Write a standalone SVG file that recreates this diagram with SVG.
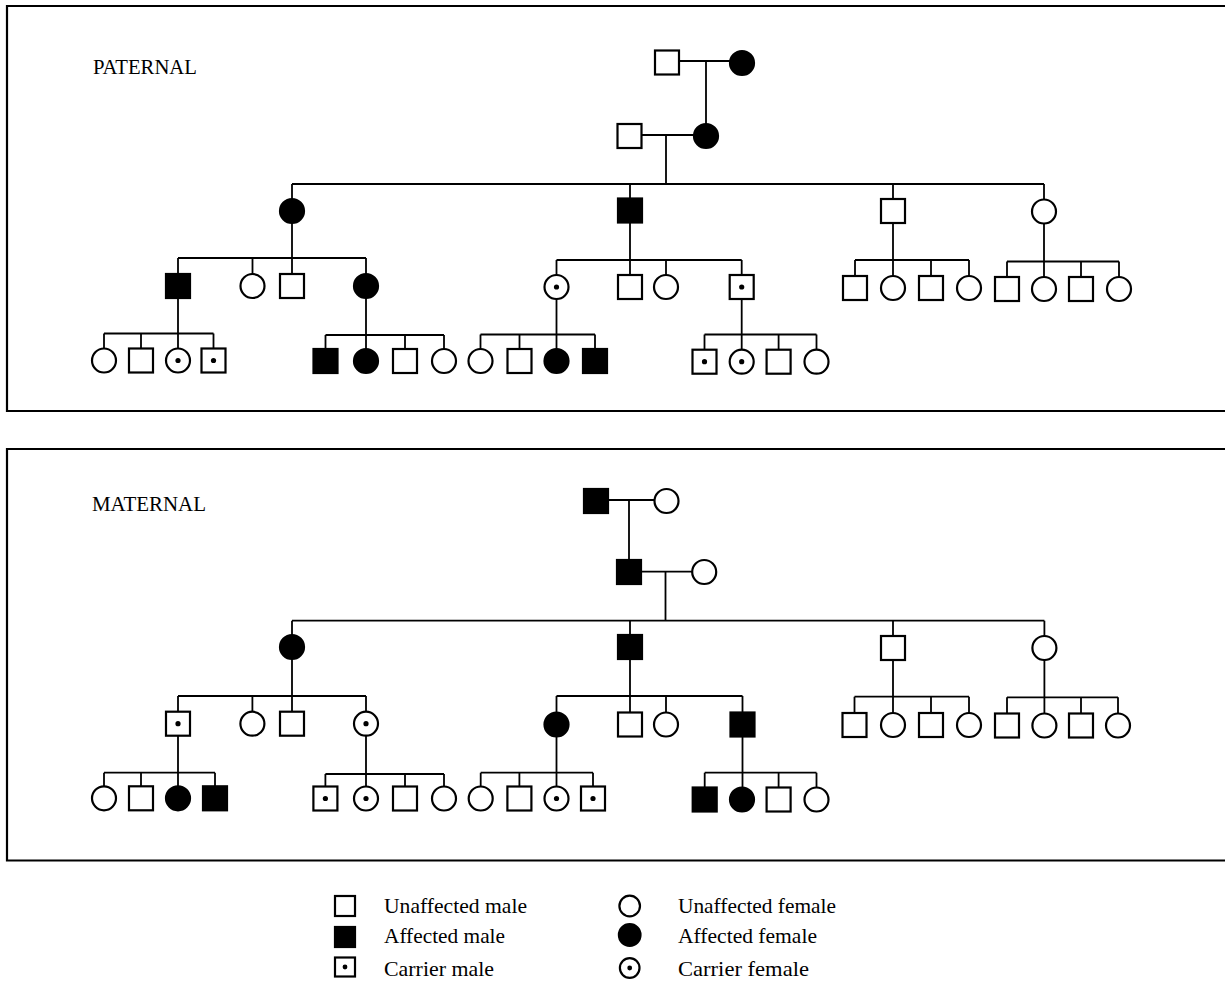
<svg xmlns="http://www.w3.org/2000/svg" width="1225" height="985" viewBox="0 0 1225 985">
<style>
.o{fill:#fff;stroke:#000;stroke-width:2.2}
.s{fill:#000;stroke:#000;stroke-width:2.2}
.d{fill:#000}
.ln{stroke:#000;stroke-width:1.8;fill:none}
.fr{stroke:#000;stroke-width:2.2;fill:none}
.t{font-family:"Liberation Serif","Times New Roman",serif;font-size:21px;fill:#000}
</style>
<defs>
<g id="um"><rect x="-12" y="-12" width="24" height="24" class="o"/></g>
<g id="am"><rect x="-12" y="-12" width="24" height="24" class="s"/></g>
<g id="cm"><rect x="-12" y="-12" width="24" height="24" class="o"/><circle r="2.6" class="d"/></g>
<g id="uf"><circle r="12" class="o"/></g>
<g id="af"><circle r="12" class="s"/></g>
<g id="cf"><circle r="12" class="o"/><circle r="2.6" class="d"/></g>
</defs>
<rect width="1225" height="985" fill="#fff"/>
<g id="frames">
<path class="fr" d="M1227 6 H7 V411 H1227"/>
<path class="fr" d="M1227 449 H7 V860.5 H1227"/>
</g>
<g id="titles">
<text class="t" x="93" y="73.5" textLength="104" lengthAdjust="spacingAndGlyphs">PATERNAL</text>
<text class="t" x="92" y="511" textLength="114" lengthAdjust="spacingAndGlyphs">MATERNAL</text>
</g>
<g id="connectors">
<path class="ln" d="M679 61H730M706 61V124M641.5 135H694M666 135V184M292 184H1044M292 184V199M630 184V198.5M893 184V199M1044 184V199.5"/>
<path class="ln" d="M292 223V274M178 258H366M178 258V274M252.5 258V274M366 258V274"/>
<path class="ln" d="M630 222.5V275M556.5 260H741.7M556.5 260V275M666 260V275M741.7 260V275"/>
<path class="ln" d="M893 223V276M855 260H969M855 260V276M931 260V276M969 260V276"/>
<path class="ln" d="M1044 223.5V277M1007 261.5H1119M1007 261.5V277M1081 261.5V277M1119 261.5V277"/>
<path class="ln" d="M178 298V348.5M104 333.5H213.5M104 333.5V348.5M141 333.5V348.5M213.5 333.5V348.5"/>
<path class="ln" d="M366 298V349M325.5 335H444M325.5 335V349M405 335V349M444 335V349"/>
<path class="ln" d="M556.5 299V349M480.5 334.5H595M480.5 334.5V349M519.5 334.5V349M595 334.5V349"/>
<path class="ln" d="M741.7 299V349.7M704.5 334.5H816.5M704.5 334.5V349.7M778.6 334.5V349.7M816.5 334.5V349.7"/>
<path class="ln" d="M608 500H654.5M629 500V560M641 571.7H692.2M665.5 571.7V620.7M292 620.7H1044.4M292 620.7V635M630 620.7V635M893 620.7V636M1044.4 620.7V636"/>
<path class="ln" d="M292 659V711.7M178 696H366M178 696V711.7M252.4 696V711.7M366 696V711.7"/>
<path class="ln" d="M630 659V712.5M556.5 696H742.5M556.5 696V712.5M666 696V712.5M742.5 696V712.5"/>
<path class="ln" d="M893 660V713M854.5 696.7H969M854.5 696.7V713M931 696.7V713M969 696.7V713"/>
<path class="ln" d="M1044.4 660V713.5M1007 697.3H1118M1007 697.3V713.5M1081 697.3V713.5M1118 697.3V713.5"/>
<path class="ln" d="M178 735.7V786.3M104 772.7H215M104 772.7V786.3M141 772.7V786.3M215 772.7V786.3"/>
<path class="ln" d="M366 735.7V786.5M325.4 774H444M325.4 774V786.5M405 774V786.5M444 774V786.5"/>
<path class="ln" d="M556.5 736.5V786.5M480.7 772.7H593M480.7 772.7V786.5M519.4 772.7V786.5M593 772.7V786.5"/>
<path class="ln" d="M742.5 736.5V787.5M704.7 772.7H816.5M704.7 772.7V787.5M778.6 772.7V787.5M816.5 772.7V787.5"/>
</g>
<g id="paternal">
<g id="pat-I-1"><use href="#um" x="667" y="62.5"/></g>
<g id="pat-I-2"><use href="#af" x="742" y="63"/></g>
<g id="pat-II-1"><use href="#um" x="629.5" y="136"/></g>
<g id="pat-II-2"><use href="#af" x="706" y="136"/></g>
<g id="pat-III-1"><use href="#af" x="292" y="211"/></g>
<g id="pat-III-2"><use href="#am" x="630" y="210.5"/></g>
<g id="pat-III-3"><use href="#um" x="893" y="211"/></g>
<g id="pat-III-4"><use href="#uf" x="1044" y="211.5"/></g>
<g id="pat-IV-1"><use href="#am" x="178" y="286"/></g>
<g id="pat-IV-2"><use href="#uf" x="252.5" y="286"/></g>
<g id="pat-IV-3"><use href="#um" x="292" y="286"/></g>
<g id="pat-IV-4"><use href="#af" x="366" y="286"/></g>
<g id="pat-IV-5"><use href="#cf" x="556.5" y="287"/></g>
<g id="pat-IV-6"><use href="#um" x="630" y="287"/></g>
<g id="pat-IV-7"><use href="#uf" x="666" y="287"/></g>
<g id="pat-IV-8"><use href="#cm" x="741.7" y="287"/></g>
<g id="pat-IV-9"><use href="#um" x="855" y="288"/></g>
<g id="pat-IV-10"><use href="#uf" x="893" y="288"/></g>
<g id="pat-IV-11"><use href="#um" x="931" y="288"/></g>
<g id="pat-IV-12"><use href="#uf" x="969" y="288"/></g>
<g id="pat-IV-13"><use href="#um" x="1007" y="289"/></g>
<g id="pat-IV-14"><use href="#uf" x="1044" y="289"/></g>
<g id="pat-IV-15"><use href="#um" x="1081" y="289"/></g>
<g id="pat-IV-16"><use href="#uf" x="1119" y="289"/></g>
<g id="pat-V-1"><use href="#uf" x="104" y="360.5"/></g>
<g id="pat-V-2"><use href="#um" x="141" y="360.5"/></g>
<g id="pat-V-3"><use href="#cf" x="178" y="360.5"/></g>
<g id="pat-V-4"><use href="#cm" x="213.5" y="360.5"/></g>
<g id="pat-V-5"><use href="#am" x="325.5" y="361"/></g>
<g id="pat-V-6"><use href="#af" x="366" y="361"/></g>
<g id="pat-V-7"><use href="#um" x="405" y="361"/></g>
<g id="pat-V-8"><use href="#uf" x="444" y="361"/></g>
<g id="pat-V-9"><use href="#uf" x="480.5" y="361"/></g>
<g id="pat-V-10"><use href="#um" x="519.5" y="361"/></g>
<g id="pat-V-11"><use href="#af" x="556.5" y="361"/></g>
<g id="pat-V-12"><use href="#am" x="595" y="361"/></g>
<g id="pat-V-13"><use href="#cm" x="704.5" y="361.7"/></g>
<g id="pat-V-14"><use href="#cf" x="741.7" y="361.7"/></g>
<g id="pat-V-15"><use href="#um" x="778.6" y="361.7"/></g>
<g id="pat-V-16"><use href="#uf" x="816.5" y="361.7"/></g>
</g>
<g id="maternal">
<g id="mat-I-1"><use href="#am" x="596" y="501"/></g>
<g id="mat-I-2"><use href="#uf" x="666.5" y="501"/></g>
<g id="mat-II-1"><use href="#am" x="629" y="572"/></g>
<g id="mat-II-2"><use href="#uf" x="704.2" y="572"/></g>
<g id="mat-III-1"><use href="#af" x="292" y="647"/></g>
<g id="mat-III-2"><use href="#am" x="630" y="647"/></g>
<g id="mat-III-3"><use href="#um" x="893" y="648"/></g>
<g id="mat-III-4"><use href="#uf" x="1044.4" y="648"/></g>
<g id="mat-IV-1"><use href="#cm" x="178" y="723.7"/></g>
<g id="mat-IV-2"><use href="#uf" x="252.4" y="723.7"/></g>
<g id="mat-IV-3"><use href="#um" x="292" y="723.7"/></g>
<g id="mat-IV-4"><use href="#cf" x="366" y="723.7"/></g>
<g id="mat-IV-5"><use href="#af" x="556.5" y="724.5"/></g>
<g id="mat-IV-6"><use href="#um" x="630" y="724.5"/></g>
<g id="mat-IV-7"><use href="#uf" x="666" y="724.5"/></g>
<g id="mat-IV-8"><use href="#am" x="742.5" y="724.5"/></g>
<g id="mat-IV-9"><use href="#um" x="854.5" y="725"/></g>
<g id="mat-IV-10"><use href="#uf" x="893" y="725"/></g>
<g id="mat-IV-11"><use href="#um" x="931" y="725"/></g>
<g id="mat-IV-12"><use href="#uf" x="969" y="725"/></g>
<g id="mat-IV-13"><use href="#um" x="1007" y="725.5"/></g>
<g id="mat-IV-14"><use href="#uf" x="1044.4" y="725.5"/></g>
<g id="mat-IV-15"><use href="#um" x="1081" y="725.5"/></g>
<g id="mat-IV-16"><use href="#uf" x="1118" y="725.5"/></g>
<g id="mat-V-1"><use href="#uf" x="104" y="798.3"/></g>
<g id="mat-V-2"><use href="#um" x="141" y="798.3"/></g>
<g id="mat-V-3"><use href="#af" x="178" y="798.3"/></g>
<g id="mat-V-4"><use href="#am" x="215" y="798.3"/></g>
<g id="mat-V-5"><use href="#cm" x="325.4" y="798.5"/></g>
<g id="mat-V-6"><use href="#cf" x="366" y="798.5"/></g>
<g id="mat-V-7"><use href="#um" x="405" y="798.5"/></g>
<g id="mat-V-8"><use href="#uf" x="444" y="798.5"/></g>
<g id="mat-V-9"><use href="#uf" x="480.7" y="798.5"/></g>
<g id="mat-V-10"><use href="#um" x="519.4" y="798.5"/></g>
<g id="mat-V-11"><use href="#cf" x="556.5" y="798.5"/></g>
<g id="mat-V-12"><use href="#cm" x="593" y="798.5"/></g>
<g id="mat-V-13"><use href="#am" x="704.7" y="799.5"/></g>
<g id="mat-V-14"><use href="#af" x="742" y="799.5"/></g>
<g id="mat-V-15"><use href="#um" x="778.6" y="799.5"/></g>
<g id="mat-V-16"><use href="#uf" x="816.5" y="799.5"/></g>
</g>
<g id="legend">
<rect class="o" x="335" y="896" width="20" height="20"/>
<rect class="s" x="335" y="927" width="20" height="20"/>
<rect class="o" x="335" y="957.5" width="20" height="19"/>
<circle class="d" cx="345" cy="967" r="2.4"/>
<circle class="o" cx="629.7" cy="906" r="10.3"/>
<circle class="s" cx="629.7" cy="935" r="10.8"/>
<circle class="o" cx="629.7" cy="968" r="9.8"/>
<circle class="d" cx="629.7" cy="968" r="2.4"/>
<text class="t" x="384" y="912.5" textLength="143" lengthAdjust="spacingAndGlyphs">Unaffected  male</text>
<text class="t" x="384" y="942.5" textLength="121" lengthAdjust="spacingAndGlyphs">Affected  male</text>
<text class="t" x="384" y="975.5" textLength="110" lengthAdjust="spacingAndGlyphs">Carrier  male</text>
<text class="t" x="678" y="912.5" textLength="158" lengthAdjust="spacingAndGlyphs">Unaffected  female</text>
<text class="t" x="678" y="942.5" textLength="139" lengthAdjust="spacingAndGlyphs">Affected  female</text>
<text class="t" x="678" y="975.5" textLength="131" lengthAdjust="spacingAndGlyphs">Carrier  female</text>
</g>
</svg>
